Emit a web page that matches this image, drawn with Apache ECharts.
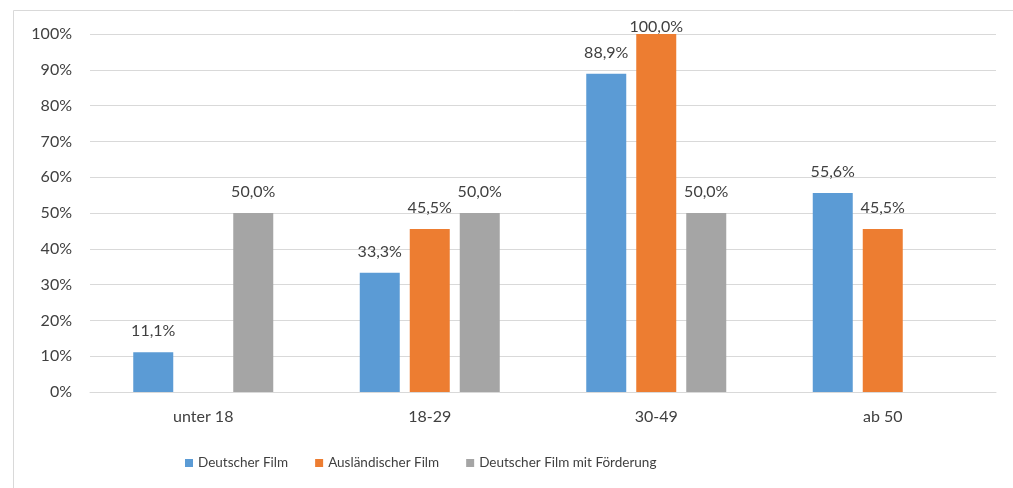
<!DOCTYPE html>
<html>
<head>
<meta charset="utf-8">
<script src="https://cdn.jsdelivr.net/npm/echarts@6/dist/echarts.min.js"></script>
<style>
  html, body { margin: 0; padding: 0; background: #fff; }
  #chart { width: 1013px; height: 488px; }
</style>
</head>
<body>
<div id="chart"></div>
<script>
// Age groups and shares per film type (percent)
const categories = ['unter 18', '18-29', '30-49', 'ab 50'];
const deutscherFilm = [11.1, 33.3, 88.9, 55.6];
const auslaendischerFilm = [null, 45.5, 100.0, 45.5];
const deutscherFilmFoerderung = [50.0, 50.0, 50.0, null];
const seriesNames = ['Deutscher Film', 'Ausländischer Film', 'Deutscher Film mit Förderung'];
const seriesColors = ['#5B9BD5', '#ED7D31', '#A5A5A5'];

const fontFamily = 'Lato, "Open Sans", sans-serif';
const textColor = '#404040';

function pct(v) {
  return v.toFixed(1).replace('.', ',') + '%';
}

// Labels sit above each bar; near the top of the scale they are pulled
// down close to the bar so they stay inside the chart.
function toItems(data) {
  return data.map(v => {
    if (v == null) return null;
    return v > 95 ? { value: v, label: { distance: -1 } } : v;
  });
}

function makeSeries(name, data, color) {
  return {
    name: name,
    type: 'bar',
    data: toItems(data),
    barWidth: 40,
    barGap: '25%',
    itemStyle: { color: color },
    label: {
      show: true,
      position: 'top',
      distance: 13,
      color: textColor,
      fontFamily: fontFamily,
      fontSize: 16,
      formatter: p => (p.value == null ? '' : pct(p.value))
    }
  };
}

const chart = echarts.init(document.getElementById('chart'), null, { renderer: 'canvas' });
chart.setOption({
  animation: false,
  backgroundColor: '#fff',
  graphic: [{
    type: 'rect',
    shape: { x: 13.5, y: 10.5, width: 1100, height: 600 },
    style: { fill: 'none', stroke: '#D9D9D9', lineWidth: 1 },
    silent: true
  }],
  grid: { left: 90, right: 17, top: 34, bottom: 96, containLabel: false },
  legend: {
    bottom: 13,
    left: 180,
    itemWidth: 8,
    itemHeight: 8,
    itemGap: 27,
    icon: 'rect',
    textStyle: { color: textColor, fontFamily: fontFamily, fontSize: 13.5 },
    data: seriesNames
  },
  xAxis: {
    type: 'category',
    data: categories,
    axisLine: { show: true, lineStyle: { color: '#D9D9D9' } },
    axisTick: { show: false },
    axisLabel: { color: textColor, fontFamily: fontFamily, fontSize: 16, margin: 17 }
  },
  yAxis: {
    type: 'value',
    min: 0,
    max: 100,
    interval: 10,
    axisLine: { show: false },
    axisTick: { show: false },
    splitLine: { lineStyle: { color: '#D9D9D9' } },
    axisLabel: {
      color: textColor,
      fontFamily: fontFamily,
      fontSize: 16,
      margin: 18,
      formatter: v => v + '%'
    }
  },
  series: [
    makeSeries(seriesNames[0], deutscherFilm, seriesColors[0]),
    makeSeries(seriesNames[1], auslaendischerFilm, seriesColors[1]),
    makeSeries(seriesNames[2], deutscherFilmFoerderung, seriesColors[2])
  ]
});
</script>
</body>
</html>
